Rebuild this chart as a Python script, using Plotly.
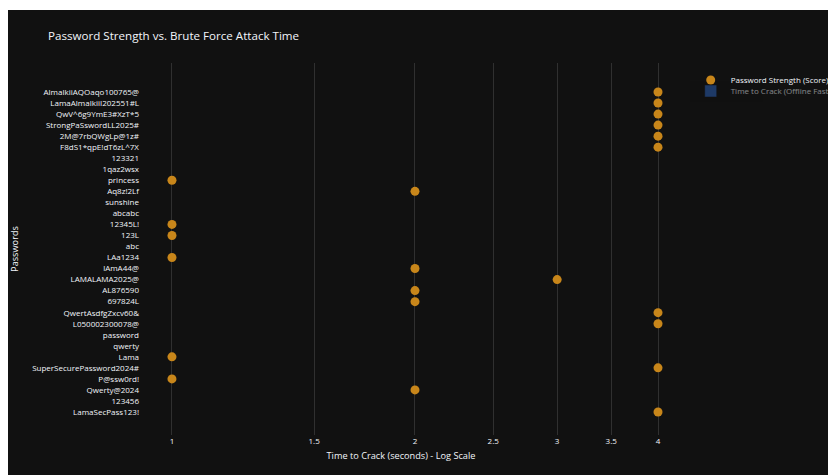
import plotly.graph_objects as go

passwords = [
    "LamaSecPass123!", "123456", "Qwerty@2024", "P@ssw0rd!", "SuperSecurePassword2024#",
    "Lama", "qwerty", "password", "L050002300078@", "QwertAsdfgZxcv60&",
    "697824L", "AL876590", "LAMALAMA2025@", "lAmA44@", "LAa1234",
    "abc", "123L", "12345L!", "abcabc", "sunshine",
    "Aq8z!2Lf", "princess", "1qaz2wsx", "123321", "F8dS1*qpE!dT6zL^7X",
    "2M@7rbQWgLp@1z#", "StrongPaSswordLL2025#", "QwV^6g9YmE3#XzT*5", "LamaAlmalkiiI202551#L",
    "AlmalkiiAQOaqo100765@",
]
strength_scores = [
    4, 0, 2, 1, 4,
    1, 0, 0, 4, 4,
    2, 2, 3, 2, 1,
    0, 1, 1, 0, 0,
    2, 1, 0, 0, 4,
    4, 4, 4, 4,
    4,
]

fig = go.Figure()
fig.add_trace(go.Scatter(
    x=strength_scores, y=passwords, mode="markers",
    name="Password Strength (Score)",
    marker=dict(size=9, color="rgb(200,134,26)"),
    cliponaxis=False, showlegend=True,
    legend="legend",
))
fig.add_trace(go.Bar(
    x=[None], y=[None], orientation="h",
    name="Time to Crack (Offline Fast Hashing)",
    marker=dict(color="rgb(45,100,190)"),
    visible="legendonly", showlegend=True,
    legend="legend2",
))

fig.update_layout(
    template="plotly_dark",
    showlegend=True,
    width=900, height=470,
    margin=dict(l=132, r=246, t=53, b=45, autoexpand=False),
    font=dict(family="Open Sans", size=8),
    title=dict(text="Password Strength vs. Brute Force Attack Time",
               font=dict(size=11.6), x=0.0445, xanchor="left", y=0.9447, yanchor="middle"),
    xaxis=dict(type="log", range=[-0.0396, 0.6070], automargin=False,
               title=dict(text="Time to Crack (seconds) - Log Scale", font=dict(size=9.2), standoff=7),
               gridcolor="#303030", showline=False, zeroline=False),
    yaxis=dict(title=dict(text="Passwords", font=dict(size=9.2)), showgrid=False, automargin=False,
               type="category", categoryorder="array", categoryarray=passwords,
               tickmode="linear", tick0=0, dtick=1, range=[-2.084, 31.628]),
    legend=dict(font=dict(size=8), x=1.055, xanchor="left", y=0.9543, yanchor="middle",
                bgcolor="rgba(0,0,0,0)"),
    legend2=dict(font=dict(size=8), x=1.055, xanchor="left", y=0.9247, yanchor="middle",
                 bgcolor="rgba(0,0,0,0)"),
)

fig.write_html("out.html",
               post_script="document.body.style.margin='10px 0 0 8px';document.body.style.overflow='hidden';document.documentElement.style.overflow='hidden';")
